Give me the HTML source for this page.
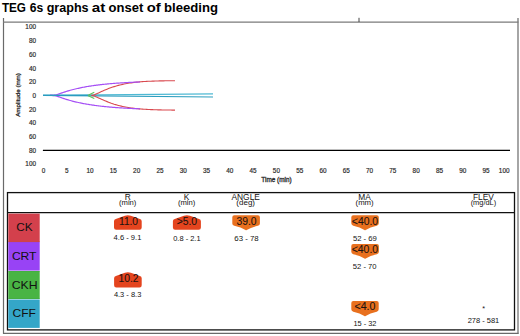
<!DOCTYPE html>
<html><head><meta charset="utf-8"><style>
html,body{margin:0;padding:0;background:#fff;width:520px;height:336px;overflow:hidden}
svg{position:absolute;left:0;top:0}
text{font-family:"Liberation Sans", sans-serif}
.tt{font-size:13.2px;font-weight:bold;fill:#000}
.ax{font-size:6.4px;fill:#2a2a2a;stroke:#2a2a2a;stroke-width:0.18px}
.rl{font-size:11.5px;fill:#111}
.h1{font-size:8.4px;fill:#111}
.h2{font-size:7.4px;fill:#111}
.bv{font-size:10.2px;fill:#1a1210;stroke:#1a1210;stroke-width:0.08px}
.rg{font-size:7.2px;fill:#111}
</style></head><body>
<svg width="520" height="336" viewBox="0 0 520 336">
<text x="1.90" y="11.7" text-anchor="start" class="tt" textLength="24.10" lengthAdjust="spacingAndGlyphs">TEG</text>
<text x="29.80" y="11.7" text-anchor="start" class="tt" textLength="13.50" lengthAdjust="spacingAndGlyphs">6s</text>
<text x="46.70" y="11.7" text-anchor="start" class="tt" textLength="41.90" lengthAdjust="spacingAndGlyphs">graphs</text>
<text x="91.80" y="11.7" text-anchor="start" class="tt" textLength="13.50" lengthAdjust="spacingAndGlyphs">at</text>
<text x="108.60" y="11.7" text-anchor="start" class="tt" textLength="34.70" lengthAdjust="spacingAndGlyphs">onset</text>
<text x="146.70" y="11.7" text-anchor="start" class="tt" textLength="14.00" lengthAdjust="spacingAndGlyphs">of</text>
<text x="164.00" y="11.7" text-anchor="start" class="tt" textLength="54.00" lengthAdjust="spacingAndGlyphs">bleeding</text>
<line x1="3.5" y1="18" x2="3.5" y2="333.8" stroke="#6a6a6a" stroke-width="1.2"/>
<line x1="518" y1="18" x2="518" y2="333.8" stroke="#6a6a6a" stroke-width="1.2"/>
<line x1="3" y1="22.2" x2="518.4" y2="22.2" stroke="#7a7a7a" stroke-width="1.3"/>
<line x1="3" y1="333.4" x2="518.6" y2="333.4" stroke="#6a6a6a" stroke-width="1.2"/>
<line x1="359" y1="17.8" x2="359" y2="22" stroke="#444" stroke-width="1"/>
<text x="36" y="29.40" text-anchor="end" class="ax">100</text>
<text x="36" y="43.10" text-anchor="end" class="ax">80</text>
<text x="36" y="56.80" text-anchor="end" class="ax">60</text>
<text x="36" y="70.50" text-anchor="end" class="ax">40</text>
<text x="36" y="84.20" text-anchor="end" class="ax">20</text>
<text x="36" y="97.90" text-anchor="end" class="ax">0</text>
<text x="36" y="111.60" text-anchor="end" class="ax">20</text>
<text x="36" y="125.30" text-anchor="end" class="ax">40</text>
<text x="36" y="139.00" text-anchor="end" class="ax">60</text>
<text x="36" y="152.70" text-anchor="end" class="ax">80</text>
<text x="36" y="166.40" text-anchor="end" class="ax">100</text>
<text x="43.50" y="173.4" text-anchor="middle" class="ax">0</text>
<text x="66.79" y="173.4" text-anchor="middle" class="ax">5</text>
<text x="90.08" y="173.4" text-anchor="middle" class="ax">10</text>
<text x="113.37" y="173.4" text-anchor="middle" class="ax">15</text>
<text x="136.66" y="173.4" text-anchor="middle" class="ax">20</text>
<text x="159.95" y="173.4" text-anchor="middle" class="ax">25</text>
<text x="183.24" y="173.4" text-anchor="middle" class="ax">30</text>
<text x="206.53" y="173.4" text-anchor="middle" class="ax">35</text>
<text x="229.82" y="173.4" text-anchor="middle" class="ax">40</text>
<text x="253.11" y="173.4" text-anchor="middle" class="ax">45</text>
<text x="276.40" y="173.4" text-anchor="middle" class="ax">50</text>
<text x="299.69" y="173.4" text-anchor="middle" class="ax">55</text>
<text x="322.98" y="173.4" text-anchor="middle" class="ax">60</text>
<text x="346.27" y="173.4" text-anchor="middle" class="ax">65</text>
<text x="369.56" y="173.4" text-anchor="middle" class="ax">70</text>
<text x="392.85" y="173.4" text-anchor="middle" class="ax">75</text>
<text x="416.14" y="173.4" text-anchor="middle" class="ax">80</text>
<text x="439.43" y="173.4" text-anchor="middle" class="ax">85</text>
<text x="462.72" y="173.4" text-anchor="middle" class="ax">90</text>
<text x="486.01" y="173.4" text-anchor="middle" class="ax">95</text>
<text x="509.5" y="173.4" text-anchor="end" class="ax">100</text>
<text x="276.5" y="182.4" text-anchor="middle" class="ax" style="stroke-width:0.3px">Time (min)</text>
<text transform="translate(19.8,95) rotate(-90)" text-anchor="middle" class="ax" style="font-size:6.2px;stroke-width:0.3px">Amplitude (mm)</text>
<line x1="42.9" y1="150.4" x2="510" y2="150.4" stroke="#000" stroke-width="1.4"/>
<polyline points="43,95.4 213,93.9" fill="none" stroke="#4fb9d3" stroke-width="1.2"/>
<polyline points="43,95.4 213,97.0" fill="none" stroke="#2e9fbf" stroke-width="1.2"/>
<polyline points="91.50,95.40 92.92,95.19 94.33,94.70 95.75,94.13 97.16,93.52 98.58,92.89 99.99,92.25 101.41,91.61 102.82,90.98 104.24,90.36 105.65,89.76 107.07,89.17 108.48,88.61 109.90,88.08 111.31,87.56 112.73,87.08 114.14,86.61 115.56,86.18 116.97,85.76 118.39,85.37 119.81,85.01 121.22,84.67 122.64,84.35 124.05,84.05 125.47,83.77 126.88,83.51 128.30,83.27 129.71,83.05 131.13,82.84 132.54,82.65 133.96,82.47 135.37,82.31 136.79,82.16 138.20,82.02 139.62,81.89 141.03,81.78 142.45,81.67 143.86,81.57 145.28,81.48 146.69,81.40 148.11,81.32 149.53,81.26 150.94,81.19 152.36,81.14 153.77,81.09 155.19,81.04 156.60,81.00 158.02,80.96 159.43,80.92 160.85,80.89 162.26,80.86 163.68,80.83 165.09,80.81 166.51,80.79 167.92,80.77 169.34,80.75 170.75,80.74 172.17,80.72 173.58,80.71 175.00,80.70" fill="none" stroke="#d9494f" stroke-width="1.1"/>
<polyline points="91.50,95.40 92.92,95.61 94.33,96.10 95.75,96.67 97.16,97.28 98.58,97.91 99.99,98.55 101.41,99.19 102.82,99.82 104.24,100.44 105.65,101.04 107.07,101.63 108.48,102.19 109.90,102.72 111.31,103.24 112.73,103.72 114.14,104.19 115.56,104.62 116.97,105.04 118.39,105.43 119.81,105.79 121.22,106.13 122.64,106.45 124.05,106.75 125.47,107.03 126.88,107.29 128.30,107.53 129.71,107.75 131.13,107.96 132.54,108.15 133.96,108.33 135.37,108.49 136.79,108.64 138.20,108.78 139.62,108.91 141.03,109.02 142.45,109.13 143.86,109.23 145.28,109.32 146.69,109.40 148.11,109.48 149.53,109.54 150.94,109.61 152.36,109.66 153.77,109.71 155.19,109.76 156.60,109.80 158.02,109.84 159.43,109.88 160.85,109.91 162.26,109.94 163.68,109.97 165.09,109.99 166.51,110.01 167.92,110.03 169.34,110.05 170.75,110.06 172.17,110.08 173.58,110.09 175.00,110.10" fill="none" stroke="#d9494f" stroke-width="1.1"/>
<polyline points="50.00,95.38 51.01,95.36 52.02,95.33 53.03,95.27 54.04,95.17 55.06,95.02 56.07,94.81 57.08,94.54 58.09,94.22 59.10,93.88 60.11,93.53 61.12,93.17 62.13,92.82 63.15,92.47 64.16,92.14 65.17,91.81 66.18,91.49 67.19,91.17 68.20,90.87 69.21,90.58 70.22,90.29 71.24,90.02 72.25,89.75 73.26,89.49 74.27,89.23 75.28,88.99 76.29,88.75 77.30,88.51 78.31,88.29 79.33,88.07 80.34,87.86 81.35,87.65 82.36,87.45 83.37,87.25 84.38,87.06 85.39,86.88 86.40,86.70 87.42,86.53 88.43,86.36 89.44,86.20 90.45,86.04 91.46,85.88 92.47,85.73 93.48,85.59 94.49,85.45 95.51,85.31 96.52,85.18 97.53,85.05 98.54,84.92 99.55,84.80 100.56,84.68 101.57,84.57 102.58,84.45 103.60,84.35 104.61,84.24 105.62,84.14 106.63,84.04 107.64,83.94 108.65,83.85 109.66,83.76 110.67,83.67 111.69,83.58 112.70,83.50 113.71,83.42 114.72,83.34 115.73,83.27 116.74,83.19 117.75,83.12 118.76,83.05 119.78,82.98 120.79,82.92 121.80,82.85 122.81,82.79 123.82,82.73 124.83,82.67 125.84,82.61 126.85,82.56 127.87,82.50 128.88,82.45 129.89,82.40 130.90,82.35 131.91,82.30 132.92,82.26 133.93,82.21 134.94,82.17 135.96,82.13 136.97,82.09 137.98,82.05 138.99,82.01 140.00,81.97" fill="none" stroke="#a54ff5" stroke-width="1.2"/>
<polyline points="50.00,95.42 51.01,95.44 52.02,95.47 53.03,95.53 54.04,95.63 55.06,95.78 56.07,95.99 57.08,96.26 58.09,96.58 59.10,96.92 60.11,97.27 61.12,97.63 62.13,97.98 63.15,98.33 64.16,98.66 65.17,98.99 66.18,99.31 67.19,99.63 68.20,99.93 69.21,100.22 70.22,100.51 71.24,100.78 72.25,101.05 73.26,101.31 74.27,101.57 75.28,101.81 76.29,102.05 77.30,102.29 78.31,102.51 79.33,102.73 80.34,102.94 81.35,103.15 82.36,103.35 83.37,103.55 84.38,103.74 85.39,103.92 86.40,104.10 87.42,104.27 88.43,104.44 89.44,104.60 90.45,104.76 91.46,104.92 92.47,105.07 93.48,105.21 94.49,105.35 95.51,105.49 96.52,105.62 97.53,105.75 98.54,105.88 99.55,106.00 100.56,106.12 101.57,106.23 102.58,106.35 103.60,106.45 104.61,106.56 105.62,106.66 106.63,106.76 107.64,106.86 108.65,106.95 109.66,107.04 110.67,107.13 111.69,107.22 112.70,107.30 113.71,107.38 114.72,107.46 115.73,107.53 116.74,107.61 117.75,107.68 118.76,107.75 119.78,107.82 120.79,107.88 121.80,107.95 122.81,108.01 123.82,108.07 124.83,108.13 125.84,108.19 126.85,108.24 127.87,108.30 128.88,108.35 129.89,108.40 130.90,108.45 131.91,108.50 132.92,108.54 133.93,108.59 134.94,108.63 135.96,108.67 136.97,108.71 137.98,108.75 138.99,108.79 140.00,108.83" fill="none" stroke="#a54ff5" stroke-width="1.2"/>
<polyline points="94.3,92.2 87.6,95.4 94.3,98.6" fill="none" stroke="#5cc05a" stroke-width="1.1"/>
<line x1="43" y1="95.4" x2="88" y2="95.4" stroke="#2a9cc0" stroke-width="1.4"/>
<rect x="7.5" y="192.6" width="507.0" height="137.3" fill="none" stroke="#111" stroke-width="1.3"/>
<line x1="7.5" y1="212.6" x2="514.5" y2="212.6" stroke="#111" stroke-width="1.3"/>
<rect x="8.3" y="213.6" width="31.4" height="28.30" fill="#d3404c"/>
<text x="24.5" y="230.6" text-anchor="middle" class="rl" textLength="16.4" lengthAdjust="spacingAndGlyphs">CK</text>
<rect x="8.3" y="241.9" width="31.4" height="28.70" fill="#9843f5"/>
<text x="24.2" y="259.8" text-anchor="middle" class="rl" textLength="24.6" lengthAdjust="spacingAndGlyphs">CRT</text>
<rect x="8.3" y="271.1" width="31.4" height="27.80" fill="#49b444"/>
<text x="24.6" y="288.7" text-anchor="middle" class="rl" textLength="25.9" lengthAdjust="spacingAndGlyphs">CKH</text>
<rect x="8.3" y="299.5" width="31.4" height="28.40" fill="#34a6c8"/>
<text x="24.2" y="316.8" text-anchor="middle" class="rl" textLength="23.4" lengthAdjust="spacingAndGlyphs">CFF</text>
<rect x="8.3" y="241.2" width="31.4" height="0.9" fill="#cc3a30" opacity="0.7"/>
<rect x="8.3" y="271.1" width="31.4" height="0.8" fill="#2fa02c" opacity="0.6"/>
<rect x="8.3" y="298.1" width="31.4" height="0.8" fill="#2fa02c" opacity="0.6"/>
<text x="127.7" y="199.7" text-anchor="middle" class="h1">R</text>
<text x="127.7" y="205.1" text-anchor="middle" class="h2" textLength="17.4" lengthAdjust="spacingAndGlyphs">(min)</text>
<text x="186.6" y="199.7" text-anchor="middle" class="h1">K</text>
<text x="186.6" y="205.1" text-anchor="middle" class="h2" textLength="17.4" lengthAdjust="spacingAndGlyphs">(min)</text>
<text x="245.7" y="199.7" text-anchor="middle" class="h1">ANGLE</text>
<text x="245.7" y="205.1" text-anchor="middle" class="h2" textLength="18.7" lengthAdjust="spacingAndGlyphs">(deg)</text>
<text x="364.6" y="199.7" text-anchor="middle" class="h1">MA</text>
<text x="364.6" y="205.1" text-anchor="middle" class="h2" textLength="18.1" lengthAdjust="spacingAndGlyphs">(mm)</text>
<text x="483.4" y="199.7" text-anchor="middle" class="h1">FLEV</text>
<text x="483.4" y="205.1" text-anchor="middle" class="h2" textLength="25.5" lengthAdjust="spacingAndGlyphs">(mg/dL)</text>
<path d="M116.2,229.79999999999998 L139.5,229.79999999999998 Q141.7,229.79999999999998 141.7,227.6 L141.7,221.2 Q141.7,219.6 139.89999999999998,219.1 L130.85,215.7 Q127.85,214.7 124.85,215.7 L115.8,219.1 Q114,219.6 114,221.2 L114,227.6 Q114,229.79999999999998 116.2,229.79999999999998 Z" fill="#e4441e"/>
<path d="M175.1,229.79999999999998 L198.70000000000002,229.79999999999998 Q200.9,229.79999999999998 200.9,227.6 L200.9,221.2 Q200.9,219.6 199.1,219.1 L189.9,215.7 Q186.9,214.7 183.9,215.7 L174.70000000000002,219.1 Q172.9,219.6 172.9,221.2 L172.9,227.6 Q172.9,229.79999999999998 175.1,229.79999999999998 Z" fill="#e4441e"/>
<path d="M234.3,215.3 L257.90000000000003,215.3 Q259.90000000000003,215.3 259.90000000000003,217.3 L259.90000000000003,223.4 Q259.90000000000003,225.4 257.90000000000003,225.8 Q251.10000000000002,227.3 246.70000000000002,230.1 Q246.10000000000002,230.6 245.50000000000003,230.1 Q241.10000000000002,227.3 234.3,225.8 Q232.3,225.4 232.3,223.4 L232.3,217.3 Q232.3,215.3 234.3,215.3 Z" fill="#e8701e"/>
<path d="M353.3,215.2 L376.8,215.2 Q378.8,215.2 378.8,217.2 L378.8,223.29999999999998 Q378.8,225.29999999999998 376.8,225.7 Q370.05,227.2 365.65000000000003,229.99999999999997 Q365.05,230.49999999999997 364.45,229.99999999999997 Q360.05,227.2 353.3,225.7 Q351.3,225.29999999999998 351.3,223.29999999999998 L351.3,217.2 Q351.3,215.2 353.3,215.2 Z" fill="#e8701e"/>
<path d="M353.3,244.0 L376.90000000000003,244.0 Q378.90000000000003,244.0 378.90000000000003,246.0 L378.90000000000003,251.8 Q378.90000000000003,253.8 376.90000000000003,254.20000000000002 Q370.1,255.70000000000002 365.70000000000005,258.5 Q365.1,259.0 364.5,258.5 Q360.1,255.70000000000002 353.3,254.20000000000002 Q351.3,253.8 351.3,251.8 L351.3,246.0 Q351.3,244.0 353.3,244.0 Z" fill="#e8701e"/>
<path d="M116.3,287.5 L139.5,287.5 Q141.7,287.5 141.7,285.3 L141.7,278.20000000000005 Q141.7,276.6 139.89999999999998,276.1 L130.89999999999998,272.70000000000005 Q127.89999999999999,271.70000000000005 124.89999999999999,272.70000000000005 L115.89999999999999,276.1 Q114.1,276.6 114.1,278.20000000000005 L114.1,285.3 Q114.1,287.5 116.3,287.5 Z" fill="#e4441e"/>
<path d="M353.3,301.1 L376.7,301.1 Q378.7,301.1 378.7,303.1 L378.7,309.3 Q378.7,311.3 376.7,311.7 Q370.0,313.2 365.6,316.0 Q365.0,316.5 364.4,316.0 Q360.0,313.2 353.3,311.7 Q351.3,311.3 351.3,309.3 L351.3,303.1 Q351.3,301.1 353.3,301.1 Z" fill="#e8701e"/>
<text x="128.5" y="224.5" text-anchor="middle" class="bv" textLength="19.0" lengthAdjust="spacingAndGlyphs">11.0</text>
<text x="186.9" y="224.5" text-anchor="middle" class="bv" textLength="20.5" lengthAdjust="spacingAndGlyphs">&gt;5.0</text>
<text x="246.5" y="224.5" text-anchor="middle" class="bv" textLength="20.2" lengthAdjust="spacingAndGlyphs">39.0</text>
<text x="365" y="224.5" text-anchor="middle" class="bv" textLength="26.3" lengthAdjust="spacingAndGlyphs">&lt;40.0</text>
<text x="364.9" y="252.8" text-anchor="middle" class="bv" textLength="26.3" lengthAdjust="spacingAndGlyphs">&lt;40.0</text>
<text x="128.5" y="281.7" text-anchor="middle" class="bv" textLength="20.2" lengthAdjust="spacingAndGlyphs">10.2</text>
<text x="365" y="309.9" text-anchor="middle" class="bv" textLength="21" lengthAdjust="spacingAndGlyphs">&lt;4.0</text>
<text x="127.5" y="240.4" text-anchor="middle" class="rg" textLength="27.8" lengthAdjust="spacingAndGlyphs">4.6 - 9.1</text>
<text x="186.9" y="240.7" text-anchor="middle" class="rg" textLength="27.4" lengthAdjust="spacingAndGlyphs">0.8 - 2.1</text>
<text x="246.5" y="240.5" text-anchor="middle" class="rg" textLength="24.4" lengthAdjust="spacingAndGlyphs">63 - 78</text>
<text x="364.9" y="240.7" text-anchor="middle" class="rg" textLength="24.0" lengthAdjust="spacingAndGlyphs">52 - 69</text>
<text x="364.7" y="269.2" text-anchor="middle" class="rg" textLength="23.7" lengthAdjust="spacingAndGlyphs">52 - 70</text>
<text x="127.6" y="297.4" text-anchor="middle" class="rg" textLength="27.4" lengthAdjust="spacingAndGlyphs">4.3 - 8.3</text>
<text x="364.9" y="326.2" text-anchor="middle" class="rg" textLength="23.0" lengthAdjust="spacingAndGlyphs">15 - 32</text>
<text x="483.5" y="323.0" text-anchor="middle" class="rg" textLength="31.6" lengthAdjust="spacingAndGlyphs">278 - 581</text>
<text x="483.6" y="310.5" text-anchor="middle" class="rg">*</text>
</svg>
</body></html>
